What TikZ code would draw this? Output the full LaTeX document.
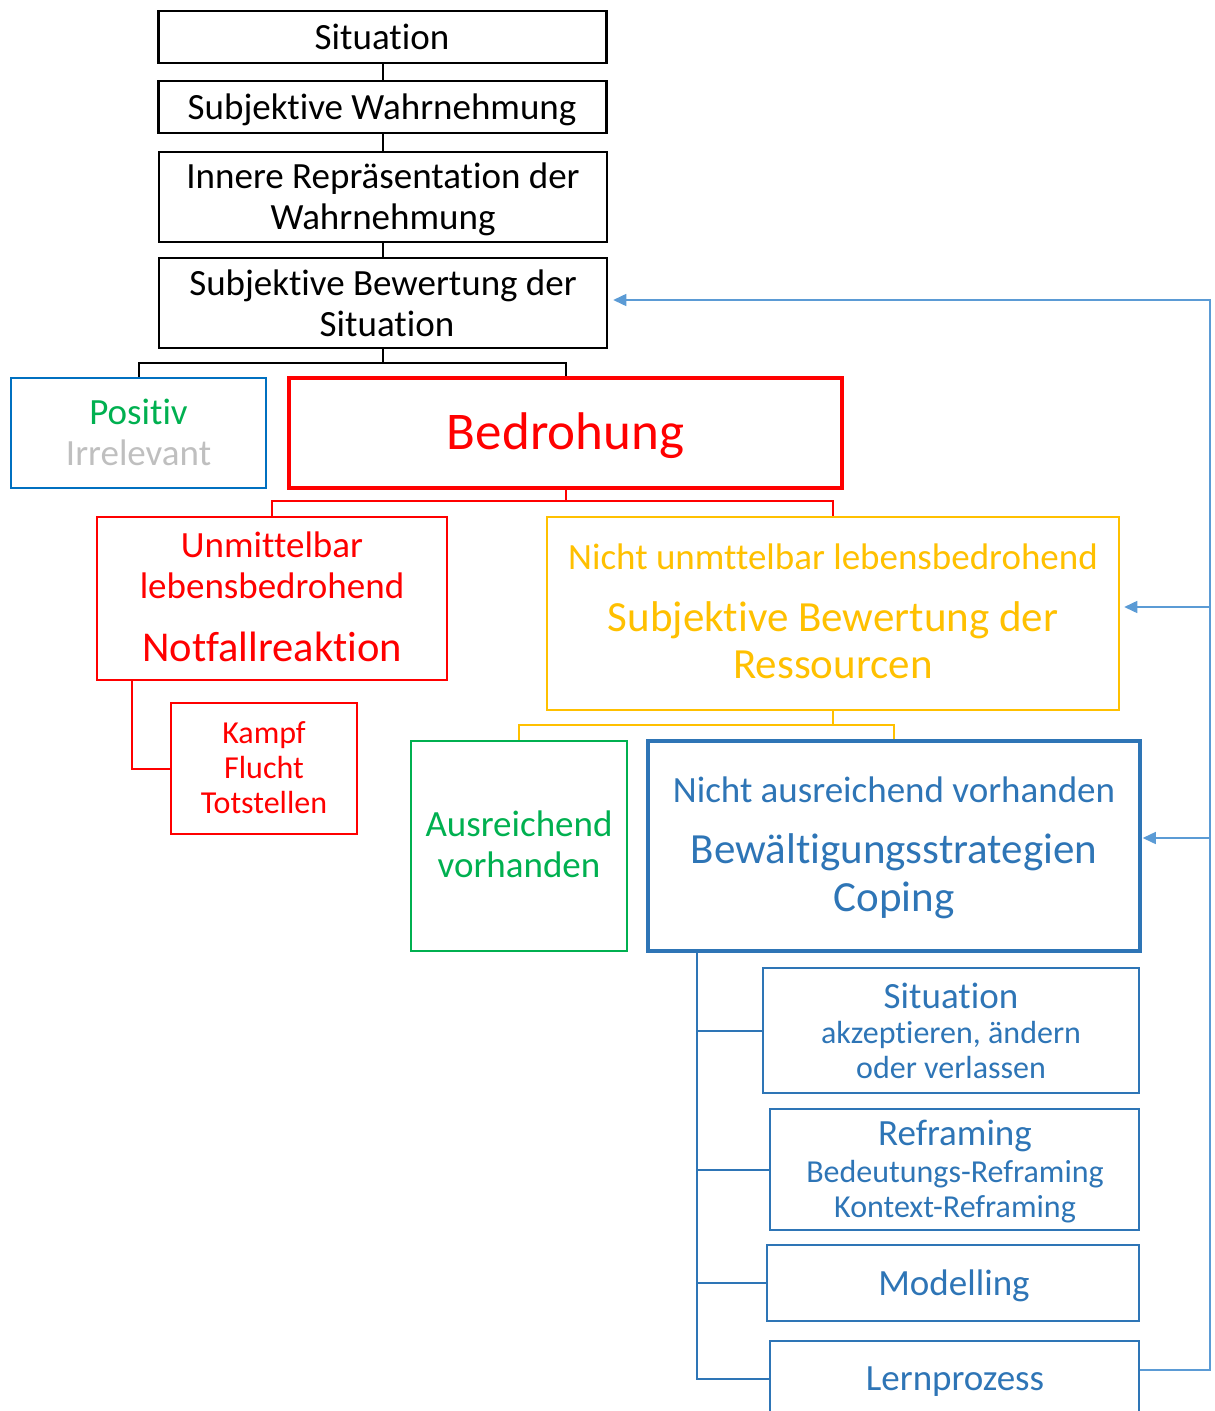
\documentclass[tikz,border=0pt]{standalone}
\usepackage{fontspec}
\setmainfont{Carlito}[Ligatures=NoCommon]
\usetikzlibrary{arrows.meta}
\definecolor{cgreen}{HTML}{00B050}
\definecolor{cgray}{HTML}{BFBFBF}
\definecolor{cred}{HTML}{FF0000}
\definecolor{cyellow}{HTML}{FFC000}
\definecolor{cblue}{HTML}{2E75B6}
\definecolor{cposblue}{HTML}{0070C0}
\definecolor{cfb}{HTML}{5B9BD5}
\newcommand\fsz[1]{\fontsize{#1}{#1}\selectfont}
\tikzset{
  box/.style={draw, inner sep=0pt, line width=2.5pt},
  lbl/.style={anchor=base, inner sep=0pt},
  conn/.style={line width=2pt},
  fb/.style={draw=cfb, line width=1.5pt},
  fbarrow/.style={fb, -{Triangle[length=13pt,width=12pt]}},
}
\begin{document}
\begin{tikzpicture}[x=1pt,y=-1pt]
\useasboundingbox (0,0) rectangle (1215,1411);
\clip (0,0) rectangle (1215,1411);
% black boxes
\node[box, minimum width=448pt, minimum height=52pt] (sit) at (382.5,37) {};
\node[box, minimum width=448pt, minimum height=52pt] (sw) at (382.5,107) {};
\node[box, minimum width=448pt, minimum height=90pt] (ir) at (383,197) {};
\node[box, minimum width=448pt, minimum height=90pt] (sb) at (383,303) {};
\node[lbl, font=\fsz{37}] (tsit) at (382,49) {Situation};
\node[lbl, font=\fsz{37}] (tsw) at (382,119) {Subjektive Wahrnehmung};
\node[lbl, font=\fsz{37}] (tir1) at (383,188) {Innere Repräsentation der};
\node[lbl, font=\fsz{37}] (tir2) at (383,229) {Wahrnehmung};
\node[lbl, font=\fsz{37}] (tsb1) at (383,295) {Subjektive Bewertung der};
\node[lbl, font=\fsz{37}] (tsb2) at (387,336) {Situation};
% second level
\node[box, draw=cposblue, minimum width=255pt, minimum height=110pt] (pos) at (138.5,433) {};
\node[lbl, font=\fsz{37}, text=cgreen] (tpos1) at (138.5,424) {Positiv};
\node[lbl, font=\fsz{37}, text=cgray] (tpos2) at (138.5,465) {Irrelevant};
\node[box, draw=cred, line width=3.5pt, minimum width=553pt, minimum height=110pt] (bed) at (565.5,433) {};
\node[lbl, font=\fsz{53}, text=cred] (tbed) at (565.5,449) {Bedrohung};
% red branch
\node[box, draw=cred, minimum width=350pt, minimum height=163pt] (um) at (272,598.5) {};
\node[lbl, font=\fsz{37}, text=cred] (tum1) at (272,557) {Unmittelbar};
\node[lbl, font=\fsz{37}, text=cred] (tum2) at (272,598) {lebensbedrohend};
\node[lbl, font=\fsz{42.5}, text=cred] (tum3) at (272,661) {Notfallreaktion};
\node[box, draw=cred, minimum width=186pt, minimum height=131pt] (kampf) at (264,768.5) {};
\node[lbl, font=\fsz{32}, text=cred] (tk1) at (264,743) {Kampf};
\node[lbl, font=\fsz{32}, text=cred] (tk2) at (264,778) {Flucht};
\node[lbl, font=\fsz{32}, text=cred] (tk3) at (264,813) {Totstellen};
% yellow
\node[box, draw=cyellow, minimum width=572pt, minimum height=193pt] (nu) at (833,613.5) {};
\node[lbl, font=\fsz{37}, text=cyellow] (tnu1) at (833,569) {Nicht unmttelbar lebensbedrohend};
\node[lbl, font=\fsz{43}, text=cyellow] (tnu2) at (833,631) {Subjektive Bewertung der};
\node[lbl, font=\fsz{43}, text=cyellow] (tnu3) at (833,678) {Ressourcen};
% third level
\node[box, draw=cgreen, minimum width=216pt, minimum height=210pt] (aus) at (519,846) {};
\node[lbl, font=\fsz{37}, text=cgreen] (taus1) at (519,836) {Ausreichend};
\node[lbl, font=\fsz{37}, text=cgreen] (taus2) at (519,877) {vorhanden};
\node[box, draw=cblue, line width=3.5pt, minimum width=492pt, minimum height=210pt] (na) at (894,846) {};
\node[lbl, font=\fsz{37}, text=cblue] (tna1) at (894,802) {Nicht ausreichend vorhanden};
\node[lbl, font=\fsz{43}, text=cblue] (tna2) at (894,863) {Bewältigungsstrategien};
\node[lbl, font=\fsz{43}, text=cblue] (tna3) at (894,911) {Coping};
% coping strategies
\node[box, draw=cblue, minimum width=376pt, minimum height=125pt] (sit2) at (951,1030.5) {};
\node[lbl, font=\fsz{37}, text=cblue] (ts1) at (951,1008) {Situation};
\node[lbl, font=\fsz{32}, text=cblue] (ts2) at (951,1043) {akzeptieren, ändern};
\node[lbl, font=\fsz{32}, text=cblue] (ts3) at (951,1078) {oder verlassen};
\node[box, draw=cblue, minimum width=369pt, minimum height=121pt] (refr) at (954.5,1169.5) {};
\node[lbl, font=\fsz{37}, text=cblue] (tr1) at (955,1145) {Reframing};
\node[lbl, font=\fsz{32}, text=cblue] (tr2) at (955,1182) {Bedeutungs-Reframing};
\node[lbl, font=\fsz{32}, text=cblue] (tr3) at (955,1217) {Kontext-Reframing};
\node[box, draw=cblue, minimum width=372pt, minimum height=76pt] (mod) at (953,1283) {};
\node[lbl, font=\fsz{37}, text=cblue] (tmod) at (954,1295) {Modelling};
\node[box, draw=cblue, minimum width=369pt, minimum height=75pt] (lern) at (954.5,1378.5) {};
\node[lbl, font=\fsz{37}, text=cblue] (tlern) at (955,1390) {Lernprozess};
% black connectors
\draw[conn] (ir.north |- sit.south) -- (ir.north |- sw.north);
\draw[conn] (ir.north |- sw.south) -- (ir.north);
\draw[conn] (ir.south) -- (sb.north);
\coordinate (j1) at (383,363);
\draw[conn] (sb.south) -- (j1);
\draw[conn] (pos.north) |- (j1) -| (bed.north);
% red connectors
\coordinate (j2) at (565.5,501);
\draw[conn, cred] (bed.south) -- (j2);
\draw[conn, cred] (um.north) |- (j2) -| (nu.north);
\draw[conn, cred] ([xshift=-140pt]um.south) |- (kampf.west);
% yellow connectors
\coordinate (j3) at (833,725);
\draw[conn, cyellow] (nu.south) -- (j3);
\draw[conn, cyellow] (aus.north) |- (j3) -| (na.north);
% blue connectors
\draw[conn, cblue] ([xshift=-197pt]na.south) |- (sit2.west);
\draw[conn, cblue] ([xshift=-197pt]na.south) |- (refr.west);
\draw[conn, cblue] ([xshift=-197pt]na.south) |- (mod.west);
\draw[conn, cblue] ([xshift=-197pt]na.south) |- (lern.west);
% feedback
\coordinate (fbb) at (1210,1370);
\coordinate (fbt) at (1210,300);
\coordinate (fb1) at (1210,607);
\coordinate (fb2) at (1210,838);
\draw[fbarrow] ([yshift=8.5pt]lern.east) -- (fbb) -- (fbt) -- ([xshift=5pt,yshift=3pt]sb.east);
\draw[fbarrow] (fb1) -- ([xshift=4pt]nu.east |- fb1);
\draw[fbarrow] (fb2) -- ([xshift=1pt]na.east |- fb2);
\end{tikzpicture}
\end{document}
